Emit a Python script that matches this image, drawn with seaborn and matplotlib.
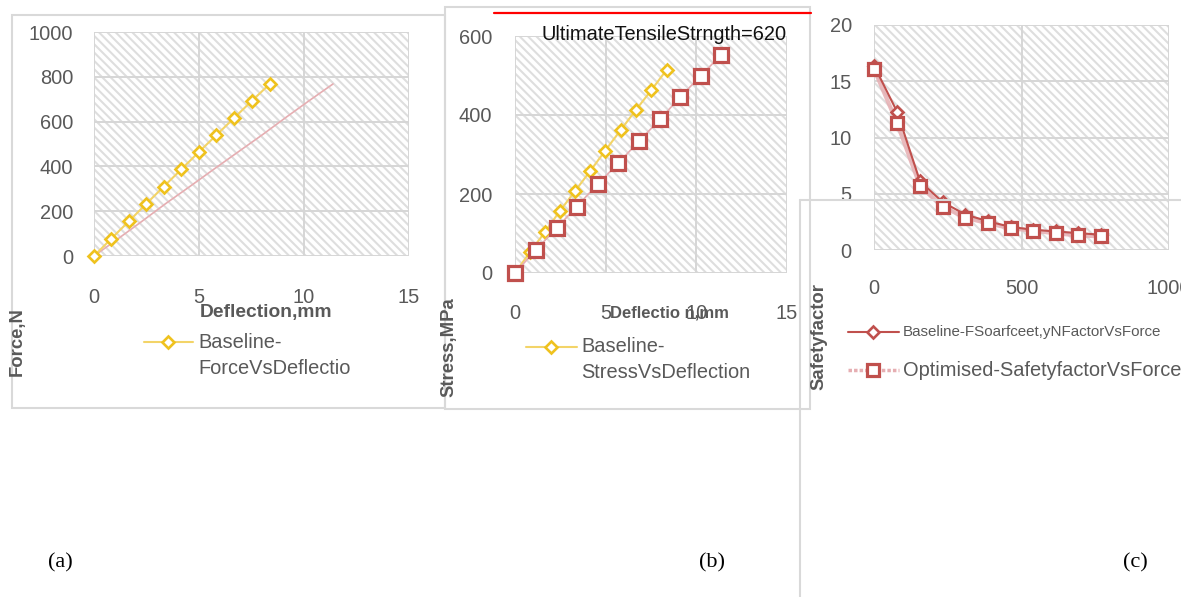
import matplotlib
matplotlib.use("Agg")
import matplotlib.pyplot as plt
import seaborn as sns
from matplotlib.patches import Rectangle
from matplotlib.lines import Line2D

# ---------------- data ----------------
baseline_deflection = [0, 0.83, 1.67, 2.49, 3.32, 4.16, 4.98, 5.83, 6.67, 7.52, 8.37]
optimised_deflection = [0, 1.16, 2.30, 3.40, 4.56, 5.70, 6.84, 8.00, 9.10, 10.24, 11.38]
force = [0, 78, 156, 233, 310, 387, 463, 540, 616, 693, 768]
baseline_stress = [0, 53, 105, 158, 208, 259, 310, 362, 413, 463, 515]
optimised_stress = [0, 59, 114, 168, 225, 278, 334, 389, 445, 499, 553]
baseline_sf = [16.4, 12.3, 6.1, 4.25, 3.15, 2.55, 2.05, 1.8, 1.65, 1.5, 1.36]
optimised_sf = [16.1, 11.3, 5.7, 3.85, 2.87, 2.37, 1.93, 1.72, 1.48, 1.3, 1.21]

ticks_a_x = [0, 5, 10, 15]
ticks_a_y = [0, 200, 400, 600, 800, 1000]
ticks_b_x = [0, 5, 10, 15]
ticks_b_y = [0, 200, 400, 600]
ticks_c_x = [0, 500, 1000]
ticks_c_y = [0, 5, 10, 15, 20]

uts_label = "UltimateTensileStrngth=620"
legend_a = ["Baseline-", "ForceVsDeflectio"]
legend_b = ["Baseline-", "StressVsDeflection"]
legend_c = ["Baseline-FSoarfceet,yNFactorVsForce", "Optimised-SafetyfactorVsForce"]

# ---------------- style ----------------
sns.set_style("white")
plt.rcParams["font.family"] = ["Liberation Sans", "DejaVu Sans"]
plt.rcParams["hatch.linewidth"] = 1.5

W, H = 1181, 597
fig = plt.figure(figsize=(W / 100, H / 100), dpi=100)
fig.patch.set_facecolor("white")

TXT = "#595959"
GRID = "#d6d6d6"
HATCH = "#dedede"
BOX = "#d9d9d9"
YE = "#efc21e"
YL = "#f3d468"
RED = "#c0504d"
PINK = "#e6aeb2"
TICK_FS = 14.4


def fx(x):
    return x / W


def fy(y):
    return 1 - y / H


def make_ax(l, r, t, b):
    ax = fig.add_axes([fx(l), fy(b), (r - l) / W, (b - t) / H])
    ax.set_facecolor("white")
    ax.add_patch(Rectangle((0, 0), 1, 1, transform=ax.transAxes, facecolor="white",
                           edgecolor=HATCH, hatch=r"\\\\", lw=0, zorder=0))
    for s in ax.spines.values():
        s.set_visible(False)
    ax.grid(True, color=GRID, lw=1.4)
    ax.set_axisbelow(True)
    ax.tick_params(length=0, labelsize=TICK_FS, labelcolor=TXT)
    return ax


def finish(ax):
    for l in ax.get_lines():
        l.set_clip_on(False)
    ax.set_xlabel("")
    ax.set_ylabel("")


def ftext(x, y, s, **kw):
    kw.setdefault("ha", "center")
    kw.setdefault("va", "center")
    fig.text(fx(x), fy(y), s, **kw)


# ---------------- panel boxes ----------------
fig.add_artist(Rectangle((fx(12), fy(408)), (445 - 12) / W, (408 - 15) / H,
                         transform=fig.transFigure, fill=False, edgecolor=BOX, lw=1.5))
fig.add_artist(Rectangle((fx(445), fy(409)), (810 - 445) / W, (409 - 7) / H,
                         transform=fig.transFigure, fill=False, edgecolor=BOX, lw=1.5))

# ---------------- panel (a) ----------------
ax = make_ax(94, 409, 32, 256)
sns.lineplot(x=optimised_deflection, y=force, ax=ax, color=PINK, lw=1.2,
             sort=False, estimator=None, legend=False)
sns.lineplot(x=baseline_deflection, y=force, ax=ax, color=YL, lw=1.5, marker="D",
             markersize=6, markerfacecolor="white", markeredgecolor=YE,
             markeredgewidth=1.9, sort=False, estimator=None, legend=False)
ax.set_xlim(0, 15)
ax.set_ylim(0, 1000)
ax.set_xticks(ticks_a_x)
ax.set_yticks(ticks_a_y)
ax.tick_params(axis="x", pad=23)
ax.tick_params(axis="y", pad=15)
finish(ax)

ftext(266, 313, "Deflection,mm", fontsize=13.9, fontweight="bold", color=TXT)
ftext(17, 342, "Force,N", fontsize=13.3, fontweight="bold", color=TXT, rotation=90)
fig.add_artist(Line2D([fx(144), fx(193)], [fy(342)] * 2, transform=fig.transFigure,
                      color=YL, lw=1.5))
fig.add_artist(Line2D([fx(168)], [fy(342)], transform=fig.transFigure, marker="D",
                      markersize=6, markerfacecolor="white", markeredgecolor=YE,
                      markeredgewidth=1.9, lw=0))
ftext(198, 342, legend_a[0], ha="left", fontsize=TICK_FS, color=TXT)
ftext(198, 368, legend_a[1], ha="left", fontsize=TICK_FS, color=TXT)

# ---------------- panel (b) ----------------
ax = make_ax(515, 787, 36, 273)
sns.lineplot(x=baseline_deflection, y=baseline_stress, ax=ax, color=YL, lw=1.5,
             marker="D", markersize=6, markerfacecolor="white", markeredgecolor=YE,
             markeredgewidth=1.9, sort=False, estimator=None, legend=False)
sns.lineplot(x=optimised_deflection, y=optimised_stress, ax=ax, color=PINK, lw=1.2,
             marker="s", markersize=9.5, markerfacecolor="white", markeredgecolor=RED,
             markeredgewidth=2.3, sort=False, estimator=None, legend=False)
ax.set_xlim(0, 15)
ax.set_ylim(0, 600)
ax.set_xticks(ticks_b_x)
ax.set_yticks(ticks_b_y)
ax.tick_params(axis="x", pad=22)
ax.tick_params(axis="y", pad=16.5)
finish(ax)

fig.add_artist(Line2D([fx(494), fx(811)], [fy(13)] * 2, transform=fig.transFigure,
                      color="#ff0000", lw=1.6))
ftext(664, 35, uts_label, fontsize=TICK_FS, color="#111111")
ftext(669, 313, "Deflectio n,mm", fontsize=12, fontweight="bold", color=TXT)
ftext(449, 347, "Stress,MPa", fontsize=13.3, fontweight="bold", color=TXT, rotation=90)
fig.add_artist(Line2D([fx(526), fx(577)], [fy(347)] * 2, transform=fig.transFigure,
                      color=YL, lw=1.5))
fig.add_artist(Line2D([fx(551)], [fy(347)], transform=fig.transFigure, marker="D",
                      markersize=6, markerfacecolor="white", markeredgecolor=YE,
                      markeredgewidth=1.9, lw=0))
ftext(581, 347, legend_b[0], ha="left", fontsize=TICK_FS, color=TXT)
ftext(581, 372, legend_b[1], ha="left", fontsize=TICK_FS, color=TXT)

# ---------------- panel (c) ----------------
ax = make_ax(874, 1169, 25, 250)
# optimised connecting line (under the baseline line)
sns.lineplot(x=force, y=optimised_sf, ax=ax, color=PINK, lw=3, alpha=0.85,
             sort=False, estimator=None, legend=False, zorder=1.8)
# baseline line with diamonds
sns.lineplot(x=force, y=baseline_sf, ax=ax, color=RED, lw=1.5, marker="D",
             markersize=6, markerfacecolor="white", markeredgecolor=RED,
             markeredgewidth=1.9, sort=False, estimator=None, legend=False, zorder=2)
# optimised square markers on top
sns.lineplot(x=force, y=optimised_sf, ax=ax, color=RED, lw=0, linestyle="none",
             marker="s", markersize=9.3, markerfacecolor="white", markeredgecolor=RED,
             markeredgewidth=2.3, sort=False, estimator=None, legend=False, zorder=3)
ax.set_xlim(0, 1000)
ax.set_ylim(0, 20)
ax.set_xticks(ticks_c_x)
ax.set_yticks(ticks_c_y)
ax.tick_params(axis="x", pad=21)
ax.tick_params(axis="y", pad=16)
finish(ax)

fig.add_artist(Line2D([fx(800), fx(800)], [fy(200), fy(597)], transform=fig.transFigure,
                      color=BOX, lw=1.5))
fig.add_artist(Line2D([fx(800), fx(1181)], [fy(200), fy(200)], transform=fig.transFigure,
                      color=BOX, lw=1.5))
ftext(819, 336, "Safetyfactor", fontsize=13.3, fontweight="bold", color=TXT, rotation=90)
fig.add_artist(Line2D([fx(848), fx(899)], [fy(332)] * 2, transform=fig.transFigure,
                      color=RED, lw=1.5))
fig.add_artist(Line2D([fx(873)], [fy(332)], transform=fig.transFigure, marker="D",
                      markersize=6, markerfacecolor="white", markeredgecolor=RED,
                      markeredgewidth=1.9, lw=0))
fig.add_artist(Line2D([fx(848), fx(899)], [fy(370)] * 2, transform=fig.transFigure,
                      color=PINK, lw=2.5, ls=(0, (1, 0.6))))
fig.add_artist(Line2D([fx(873)], [fy(370)], transform=fig.transFigure, marker="s",
                      markersize=9.3, markerfacecolor="white", markeredgecolor=RED,
                      markeredgewidth=2.3, lw=0))
ftext(903, 332, legend_c[0], ha="left", fontsize=10.9, color=TXT)
ftext(903, 370, legend_c[1], ha="left", fontsize=TICK_FS, color=TXT)

# ---------------- panel letters ----------------
serif = ["Liberation Serif", "DejaVu Serif"]
ftext(60, 563, "(a)", fontsize=16, color="black", family=serif)
ftext(712, 563, "(b)", fontsize=16, color="black", family=serif)
ftext(1135, 563, "(c)", fontsize=16, color="black", family=serif)

fig.savefig("out.png", dpi=100, facecolor="white")
